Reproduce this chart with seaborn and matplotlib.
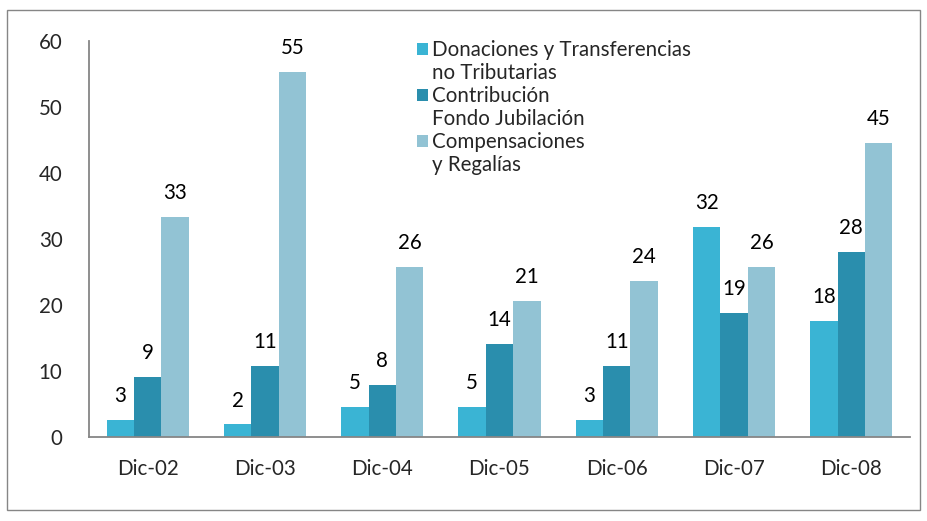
import matplotlib
matplotlib.use("Agg")
import matplotlib.pyplot as plt
import matplotlib.patches as mpatches
import seaborn as sns
import pandas as pd

categories = ["Dic-02", "Dic-03", "Dic-04", "Dic-05", "Dic-06", "Dic-07", "Dic-08"]
series_names = ["Donaciones y Transferencias\nno Tributarias",
                "Contribución\nFondo Jubilación",
                "Compensaciones\ny Regalías"]
donaciones = [2.6, 1.9, 4.6, 4.6, 2.6, 31.8, 17.6]
contribucion = [9.1, 10.8, 7.9, 14.1, 10.8, 18.8, 28.0]
compensaciones = [33.3, 55.3, 25.8, 20.6, 23.6, 25.8, 44.6]
y_ticks = [0, 10, 20, 30, 40, 50, 60]
colors = ["#3AB4D4", "#2A8EAD", "#92C3D4"]

sns.set_style("white")
plt.rcParams["font.family"] = ["Lato", "DejaVu Sans"]
FS = 14.8

rows = []
for name, vals in zip(series_names, [donaciones, contribucion, compensaciones]):
    for c, v in zip(categories, vals):
        rows.append({"cat": c, "serie": name, "val": v})
df = pd.DataFrame(rows)

fig = plt.figure(figsize=(9.28, 5.21), dpi=100)
ax = fig.add_axes([89/928, 1-437/521, (910-89)/928, (437-41)/521])

sns.barplot(data=df, x="cat", y="val", hue="serie", order=categories,
            hue_order=series_names, palette=colors, width=0.70, gap=0,
            saturation=1, ax=ax, legend=False, linewidth=0, errorbar=None)

for cont in ax.containers:
    ax.bar_label(cont, fmt="%.0f", padding=10, fontsize=FS, color="#000000")

ax.set_ylim(0, 60)
ax.set_yticks(y_ticks)
ax.set_xlim(-0.5, 6.5)
ax.set_xlabel("")
ax.set_ylabel("")
for s in ["top", "right"]:
    ax.spines[s].set_visible(False)
for s in ["left", "bottom"]:
    ax.spines[s].set_color("#868686")
    ax.spines[s].set_linewidth(1.3)
ax.set_xticks([i - 0.5 for i in range(8)], minor=True)
ax.tick_params(axis="x", which="major", length=0, pad=16, labelsize=FS)
ax.tick_params(axis="x", which="minor", length=7, color="#868686", width=1.3, direction="out")
ax.tick_params(axis="y", length=8, color="#868686", width=1.3, pad=11, labelsize=FS)

blank = mpatches.Patch(facecolor="none", edgecolor="none")
handles, labels = [], []
for name, col in zip(series_names, colors):
    l1, l2 = name.split("\n")
    handles += [mpatches.Patch(facecolor=col, edgecolor="none"), blank]
    labels += [l1, l2]
ax.legend(handles, labels, loc="upper left", bbox_to_anchor=(417/928, 1-40/521),
          bbox_transform=fig.transFigure, frameon=False, fontsize=FS,
          handlelength=0.55, handleheight=0.55, handletextpad=0.2,
          labelspacing=0.15, borderpad=0, borderaxespad=0)

fig.patches.append(mpatches.Rectangle((7/928, 1-510/521), 913/928, 500/521,
                                      transform=fig.transFigure, fill=False,
                                      edgecolor="#868686", linewidth=1.0))

fig.savefig("out.png", dpi=100)
